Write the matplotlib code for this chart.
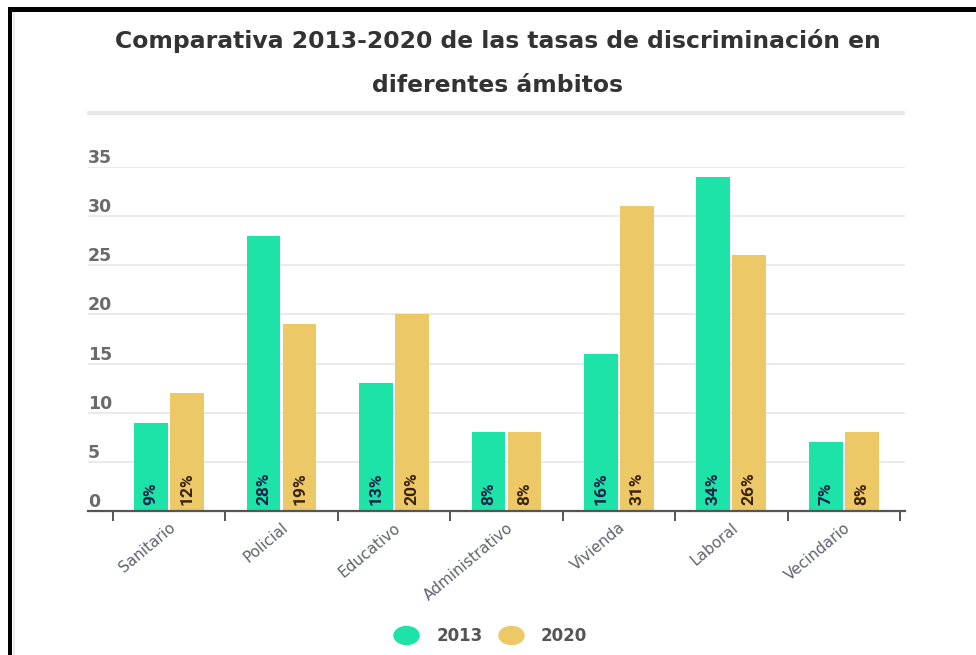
import matplotlib
matplotlib.use("Agg")
import matplotlib.pyplot as plt
from matplotlib.patches import Rectangle
from matplotlib.lines import Line2D
from matplotlib.path import Path
from matplotlib.transforms import Affine2D
import numpy as np

categories = ["Sanitario", "Policial", "Educativo", "Administrativo", "Vivienda", "Laboral", "Vecindario"]
series_names = ["2013", "2020"]
values_2013 = [9, 28, 13, 8, 16, 34, 7]
values_2020 = [12, 19, 20, 8, 31, 26, 8]
y_ticks = [0, 5, 10, 15, 20, 25, 30, 35]
title = "Comparativa 2013-2020 de las tasas de discriminación en\ndiferentes ámbitos"

c2013 = "#1de3a9"
c2020 = "#ecc966"
W, H = 976, 655

fig = plt.figure(figsize=(W / 100, H / 100), dpi=100)
fig.patch.set_facecolor("white")

def fx(px):
    return px / W

def fy(py):
    return 1 - py / H

ax = fig.add_axes([fx(88), fy(511), fx(905) - fx(88), fy(167) - fy(511)])
x = np.arange(len(categories))
bw = 0.30
off = 0.16
b1 = ax.bar(x - off, values_2013, width=bw, color=c2013, zorder=3)
b2 = ax.bar(x + off, values_2020, width=bw, color=c2020, zorder=3)

ax.set_xlim(-0.722, 6.545)
ax.set_ylim(0, 35)
for s in ["top", "right", "left"]:
    ax.spines[s].set_visible(False)
ax.spines["bottom"].set_color("#555555")
ax.spines["bottom"].set_linewidth(1.6)
ax.spines["bottom"].set_zorder(4)

ax.set_yticks(y_ticks)
ax.set_yticklabels([])
ax.tick_params(axis="y", length=0)
ax.yaxis.grid(True, color="#e6e6e6", linewidth=1.2, zorder=0)
ax.set_axisbelow(True)

for t in y_ticks:
    ax.text(0.0, t, str(t), transform=ax.get_yaxis_transform(), ha="left", va="bottom",
            fontsize=12.5, fontweight="bold", color="#6a6a6a", family="DejaVu Sans")

# boundary ticks
ax.set_xticks(np.arange(len(categories) + 1) - 0.5)
ax.set_xticklabels([])
ax.tick_params(axis="x", length=7, width=1.4, color="#555555", direction="out")

for i, c in enumerate(categories):
    ax.text(i + 0.04, -1.5, c, rotation=40, rotation_mode="anchor", ha="right", va="center",
            fontsize=11, color="#5f6470", family="DejaVu Sans")

for bars, vals, tc in [(b1, values_2013, "#15204a"), (b2, values_2020, "#3a2010")]:
    for r, v in zip(bars, vals):
        ax.annotate(f"{v}%", (r.get_x() + r.get_width() / 2, 0), xytext=(0, 4),
                    textcoords="offset points", rotation=90, ha="center", va="bottom",
                    fontsize=12.5, fontweight="bold", color=tc,
                    family="Roboto", zorder=5)

fig.text(fx(498), fy(63), title, ha="center", va="center", fontsize=16.9,
         fontweight="bold", color="#333333", family="DejaVu Sans", linespacing=2.2)

fig.add_artist(Rectangle((fx(87), fy(115)), fx(905) - fx(87), 4 / H, transform=fig.transFigure,
                         color="#e8e8e8", lw=0))

ellipse = Path.unit_circle().transformed(Affine2D().scale(1.0, 0.72))
handles = [Line2D([], [], marker=ellipse, ls="none", markersize=18, color=c2013),
           Line2D([], [], marker=ellipse, ls="none", markersize=18, color=c2020)]
fig.legend(handles, series_names, loc="center", bbox_to_anchor=(fx(490), fy(636)), ncol=2,
           frameon=False, handletextpad=1.0, columnspacing=0.9, handlelength=1.6,
           prop={"family": "DejaVu Sans", "weight": "bold", "size": 12})
for t in fig.legends[0].get_texts():
    t.set_color("#555555")

# frame border
fig.add_artist(Rectangle((fx(7.5), fy(12.3)), 1, 4.8 / H, transform=fig.transFigure, color="black", lw=0))
fig.add_artist(Rectangle((fx(7.5), 0), 4.6 / W, fy(7.5), transform=fig.transFigure, color="black", lw=0))
fig.add_artist(Rectangle((fx(12.5), 0), 2.8 / W, fy(12.3), transform=fig.transFigure, color="#ececec", lw=0))

fig.savefig("out.png", dpi=100)
